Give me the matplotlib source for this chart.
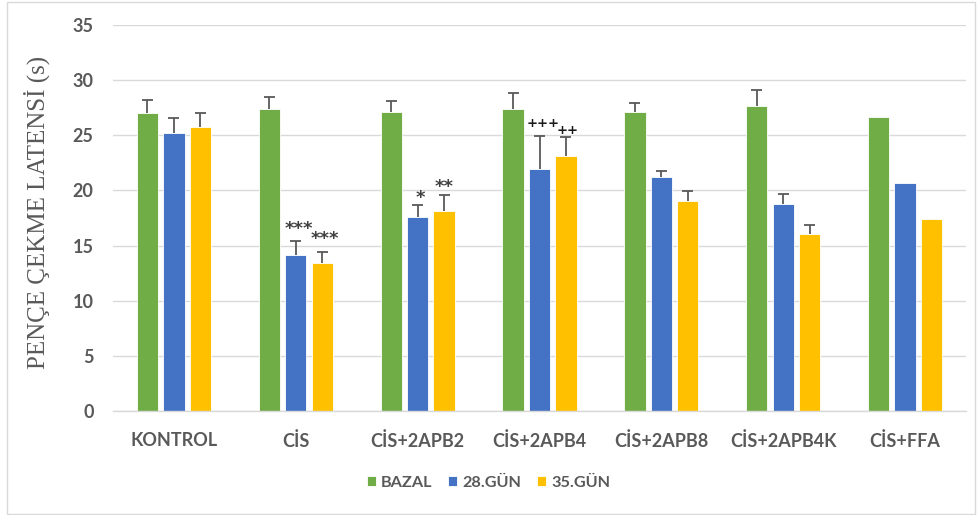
import numpy as np
import matplotlib.pyplot as plt
from matplotlib.patches import Rectangle

groups = ['KONTROL', 'CİS', 'CİS+2APB2', 'CİS+2APB4', 'CİS+2APB8', 'CİS+2APB4K', 'CİS+FFA']
series = ['BAZAL', '28.GÜN', '35.GÜN']

bazal = [27.0, 27.4, 27.1, 27.4, 27.1, 27.7, 26.65]
gun28 = [25.2, 14.1, 17.55, 21.9, 21.2, 18.75, 20.65]
gun35 = [25.75, 13.4, 18.1, 23.15, 19.0, 16.05, 17.4]

bazal_err = [1.2, 1.1, 1.0, 1.4, 0.8, 1.4, 0.0]
gun28_err = [1.4, 1.3, 1.1, 3.0, 0.55, 0.95, 0.0]
gun35_err = [1.25, 1.0, 1.45, 1.7, 0.95, 0.85, 0.0]

# significance marks over each bar ('' = none)
bazal_sig = ['', '', '', '', '', '', '']
gun28_sig = ['', '***', '*', '+++', '', '', '']
gun35_sig = ['', '***', '**', '++', '', '', '']

# label offsets (points) from the top of the error bar
star_off = {'***': (2, 5), '*': (2, 1.5), '**': (0, 2.5)}
plus_off = {'+++': (2.5, 6.5), '++': (1.5, 2)}

colors = ['#70AD47', '#4472C4', '#FFC000']
gray = '#595959'

W, H = 977, 515
fig = plt.figure(figsize=(W / 100, H / 100), dpi=100)
ax = fig.add_axes([113 / W, 1 - 411 / H, (966 - 113) / W, (411 - 25) / H])

x = np.arange(len(groups))
width = 0.175
step = 0.217
values = [bazal, gun28, gun35]
errs = [bazal_err, gun28_err, gun35_err]
sigs = [bazal_sig, gun28_sig, gun35_sig]

for i in range(3):
	pos = x + (i - 1) * step
	ax.bar(pos, values[i], width, color=colors[i], edgecolor='white', linewidth=0.6,
		label=series[i], zorder=2)
	v = np.array(values[i])
	e = np.array(errs[i])
	m = e > 0
	ax.vlines(pos[m], v[m], v[m] + e[m], color=gray, linewidth=1.3, zorder=3)
	ax.hlines(v[m] + e[m], pos[m] - 0.045, pos[m] + 0.045, color=gray, linewidth=1.3, zorder=3)
	for j, s in enumerate(sigs[i]):
		if not s:
			continue
		star = '*' in s
		off = star_off[s] if star else plus_off[s]
		if s == '***' and i == 2:
			off = (2, 6)
		ax.annotate(s, (pos[j], v[j] + e[j]), xytext=off,
			textcoords='offset points', ha='center', va='baseline',
			fontsize=13 if star else 9.5, fontweight='bold',
			color='#404040' if star else '#1a1a1a', family='DejaVu Sans', zorder=4)

ax.set_xlim(-0.5, len(groups) - 0.5)
ax.set_ylim(0, 35)
ax.set_yticks(np.arange(0, 36, 5))
ax.set_xticks(x)
ax.set_xticklabels(groups)
ax.yaxis.grid(True, color='#d9d9d9', linewidth=1.0, zorder=0)
ax.set_axisbelow(True)
for s in ['top', 'right', 'left']:
	ax.spines[s].set_visible(False)
ax.spines['bottom'].set_color('#d9d9d9')
ax.spines['bottom'].set_linewidth(1.0)
ax.tick_params(length=0, labelsize=13, labelcolor=gray)
ax.tick_params(axis='x', pad=15)
ax.tick_params(axis='y', pad=14)
for lab in ax.get_xticklabels() + ax.get_yticklabels():
	lab.set_family('Lato')
	lab.set_fontweight('bold')

fig.text(37 / W, 1 - 212 / H, 'PENÇE ÇEKME LATENSİ (s)', rotation=90, ha='center', va='center',
	fontsize=18, color=gray, family='Liberation Serif')

leg = fig.legend(loc='center', bbox_to_anchor=(0.5, 1 - 483 / H), ncol=3, frameon=False,
	handlelength=0.55, handleheight=0.55, handletextpad=0.3, columnspacing=1.0,
	prop={'family': 'Lato', 'weight': 'bold', 'size': 11.7})
for t in leg.get_texts():
	t.set_color(gray)

fig.patches.append(Rectangle((7 / W, 1 / H), (975 - 7) / W, (513 - 1) / H, transform=fig.transFigure,
	fill=False, edgecolor='#d9d9d9', linewidth=1.0))

fig.savefig('out.png', dpi=100)
